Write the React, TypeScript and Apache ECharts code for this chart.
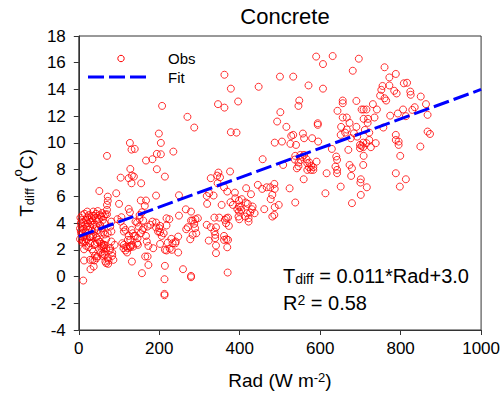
import React, { useEffect, useRef } from "react";
import * as echarts from "echarts";

const obsLowRad: [number, number][] = [
  [70, 9.03], [93, 6.23], [51, 6.4], [72, 5.98], [72, 5.66], [70, 5.36], [70, 4.99], [70, 4.66],
  [96, 4.29], [81, 4.11], [78, 3.74], [72, 3.24], [81, 3.37], [68, 2.79], [64, 2.37], [58, 2.29],
  [62, 2.19], [68, 2.12], [55, 1.8], [64, 1.87], [64, 1.62], [72, 1.37], [74, 1.2], [78, 2.12],
  [83, 1.8], [68, 1.0], [59, 1.55], [46, 1.5], [39, 1.2], [28, 1.25], [13, 1.2], [39, 2.37],
  [33, 2.04], [13, 2.62], [17, 2.62], [27, 2.99], [35, 2.99], [11, 2.94],
  [7, 4.24], [11, 4.04], [7, 3.79], [11, 3.54], [10, 3.24], [13, 2.99], [18, 4.24], [21, 4.44],
  [26, 4.24], [32, 4.36], [38, 4.54], [42, 4.36], [46, 4.11], [50, 4.29], [56, 4.49], [60, 4.24],
  [64, 3.99], [44, 3.74], [36, 3.87], [28, 3.74], [20, 3.74], [24, 3.49], [32, 3.44], [40, 3.54],
  [48, 3.49], [54, 3.29], [36, 3.12], [28, 2.94], [20, 2.79], [44, 2.94], [28, 2.49], [40, 2.44],
  [46, 2.54], [13, 2.04], [36, 1.87], [40, 1.55], [44, 1.37], [34, 1.25], [21, 4.86], [36, 4.86],
  [32, 4.54], [3, 3.6], [5, 4.0], [4, 4.4], [6, 3.2], [3, 2.8], [8, 2.7], [5, 3.4], [9, 4.6],
  [14, 4.7], [16, 3.9], [17, 3.3], [23, 4.0], [25, 4.6], [29, 4.1], [31, 3.0], [34, 4.2], [43, 4.7],
  [47, 4.9], [52, 4.6], [58, 4.75], [62, 4.5], [66, 4.65], [53, 3.85], [57, 3.6], [61, 3.3],
  [65, 3.15], [48, 2.75], [52, 2.6], [56, 2.45], [24, 2.2], [18, 2.3], [9, 2.55],
  [56, 2.12], [59, 1.7], [77, 1.95], [83, 1.55], [86, 1.25], [62, 2.37], [81, 2.62], [89, 2.37],
  [11, -0.3], [29, 0.55], [37, 0.75], [66, 1.12], [73, 0.95],
];

const obsMidRad: [number, number][] = [
  [127, 10.0], [131, 9.5], [139, 9.55], [204, 10.0], [194, 9.18], [204, 9.15], [235, 9.35],
  [104, 7.4], [128, 8.05], [124, 7.36], [132, 7.56], [137, 7.48], [131, 6.98], [155, 6.98],
  [167, 8.68], [183, 8.78], [194, 8.03], [214, 7.48], [192, 6.06], [100, 5.44], [106, 4.44],
  [124, 5.06], [127, 4.81], [154, 5.69], [167, 5.69], [164, 5.29], [157, 4.81], [151, 4.6],
  [151, 4.31], [249, 6.08], [225, 4.29], [249, 4.56],
  [218, 4.36], [218, 3.82], [221, 2.54], [230, 2.82], [202, 3.32], [192, 4.04], [192, 3.67],
  [200, 3.62], [202, 3.79], [206, 3.04], [218, 1.95], [226, 2.09], [247, 1.8], [214, 0.8],
  [173, 2.29], [185, 2.12], [202, 2.44], [169, 2.62], [167, 3.04], [161, 3.62], [171, 3.74],
  [178, 3.87], [149, 3.74], [145, 4.04], [141, 4.11], [160, 4.19], [131, 3.49], [137, 3.04],
  [141, 3.04], [124, 3.04], [122, 2.74], [128, 2.74], [132, 2.37], [127, 2.29], [118, 2.24],
  [122, 2.12], [128, 2.19], [135, 2.24], [112, 2.37], [108, 2.49], [111, 2.12], [116, 1.95],
  [120, 1.8], [132, 1.12], [147, 2.37], [145, 2.49], [165, 1.5], [171, 1.5], [173, 0.87],
  [112, 3.37], [116, 3.49], [111, 3.69], [104, 4.11], [247, 2.99], [241, 2.62], [233, 2.49],
  [134, 3.24], [146, 2.87], [158, 3.49], [183, 4.11], [197, 3.37], [211, 3.24], [240, 2.49],
  [231, 2.0], [214, 2.0], [154, 3.24], [157, 0.25], [213, -0.2], [213, -1.3], [213, -1.4],
  [199, 10.7], [207, 12.77],
];

const obsUpperMidRad: [number, number][] = [
  [328, 7.36], [347, 7.78], [351, 7.43], [345, 6.98], [376, 7.86], [361, 6.68], [324, 6.24],
  [335, 6.06], [369, 6.36], [388, 6.28], [319, 5.44], [355, 5.36], [377, 5.56], [383, 5.36],
  [398, 5.69], [416, 6.61], [428, 6.16], [445, 6.86], [456, 6.56], [467, 6.68], [486, 6.93],
  [487, 6.56], [481, 6.11], [477, 5.79], [457, 8.78], [266, 5.03], [279, 4.86], [267, 3.54],
  [271, 3.69], [279, 4.19], [283, 4.19], [290, 4.29], [296, 4.36], [287, 3.94], [289, 3.62],
  [292, 3.24], [283, 3.12], [277, 2.79], [318, 3.87], [328, 3.69], [337, 3.37], [341, 3.69],
  [339, 3.12], [339, 2.87], [323, 2.69], [341, 2.32], [341, 1.75], [361, 2.74], [367, 2.79],
  [371, 2.74], [369, 2.19], [373, 3.79], [363, 4.24], [367, 4.36], [371, 4.41], [349, 4.41],
  [337, 4.41], [394, 5.04], [398, 4.86], [404, 4.99], [402, 5.19], [398, 5.24], [414, 4.49],
  [422, 4.36], [422, 4.11], [418, 4.74], [426, 4.79], [430, 5.04], [432, 5.24], [437, 4.74],
  [461, 5.04], [487, 5.19], [486, 4.61], [481, 4.49], [497, 5.36], [415, 5.54], [420, 5.44],
  [389, 5.86], [405, 5.79], [344, 7.55], [318, 6.03], [361, 3.04], [366, 3.99], [397, 4.49],
  [399, 4.29], [476, 6.68], [259, 0.55], [279, 0.05], [279, -0.05], [370, 0.3],
  [362, 15.1], [447, 14.2], [378, 14.06], [346, 12.9], [362, 12.64], [396, 13.1], [270, 11.95],
  [287, 11.15], [493, 11.6], [378, 10.8], [392, 10.77], [487, 10.02],
];

const obsHighRad: [number, number][] = [
  [590, 16.46], [631, 16.5], [607, 15.9], [696, 16.3], [681, 15.4], [500, 14.96], [533, 14.96],
  [571, 14.3], [607, 14.06], [548, 13.17], [546, 12.77], [501, 12.3], [516, 11.2], [594, 11.47],
  [594, 11.35], [557, 10.7], [643, 12.4], [656, 13.17], [656, 12.97], [690, 13.14], [656, 11.9],
  [666, 11.9], [673, 11.5], [652, 11.2], [666, 11.0], [690, 11.2], [703, 12.5], [708, 12.5],
  [715, 12.5], [708, 11.8], [719, 11.8], [718, 11.5], [735, 11.9], [741, 12.5], [731, 12.9],
  [711, 10.97], [722, 10.77], [757, 11.15], [760, 15.66], [772, 14.9], [788, 15.16], [752, 13.97],
  [755, 14.26], [772, 14.3], [749, 13.54], [760, 13.34], [764, 13.17], [784, 13.9], [790, 13.7],
  [808, 14.46], [816, 14.5], [824, 13.84], [825, 13.6], [806, 12.5], [829, 12.47], [850, 13.47],
  [863, 12.9], [835, 12.67], [774, 12.04], [793, 12.2], [813, 12.0], [867, 12.1], [867, 10.85],
  [873, 10.67], [788, 10.6],
  [505, 10.1], [528, 10.52], [533, 10.6], [540, 9.85], [526, 9.93], [551, 9.1], [538, 5.54],
  [546, 8.53], [551, 8.73], [542, 8.1], [560, 9.1], [566, 8.78], [568, 8.48], [572, 8.18],
  [578, 8.28], [568, 7.98], [577, 7.98], [583, 7.98], [583, 8.18], [591, 8.6], [560, 10.35],
  [580, 10.35], [595, 10.1], [559, 7.28], [613, 6.23], [616, 7.73], [629, 9.55], [638, 8.23],
  [640, 8.98], [642, 8.73], [642, 7.98], [642, 7.73], [651, 6.73], [651, 10.6], [662, 10.77],
  [670, 9.48], [673, 8.35], [679, 8.1], [677, 7.53], [679, 5.49], [701, 6.11], [684, 10.72],
  [692, 10.47], [699, 9.85], [699, 9.6], [703, 9.78], [707, 9.68], [708, 9.03], [707, 8.35],
  [701, 7.28], [700, 7.03], [716, 6.68], [707, 10.02], [715, 9.98], [722, 10.22], [726, 9.68],
  [738, 9.98], [788, 10.22], [795, 10.1], [795, 9.85], [799, 9.03], [788, 7.73], [813, 7.28],
  [798, 6.73], [849, 9.73], [508, 8.35], [524, 6.6], [538, 9.03], [573, 8.53], [676, 10.35],
  [537, 8.75], [546, 8.25], [556, 8.95],
];

// Linear fit
const fitSlope = 0.011;
const fitIntercept = 3.0;

// Axes
const xTicks = [0, 200, 400, 600, 800, 1000];
const yTicks = [-4, -2, 0, 2, 4, 6, 8, 10, 12, 14, 16, 18];

const titleText = "Concrete";
const legendObs = "Obs";
const legendFit = "Fit";
const eqText = "{m|T}{sub|diff}{m| = 0.011*Rad+3.0}";
const r2Text = "{m|R}{sup|2}{m| = 0.58}";

const FONT = "'Liberation Sans', Arial, sans-serif";
const OBS_COLOR = "#ff0000";
const FIT_COLOR = "#0000ff";

export default function App() {
  const ref = useRef<HTMLDivElement>(null);
  useEffect(() => {
    document.body.style.margin = "0";
    const chart = echarts.init(ref.current!, null, { renderer: "svg" });
    const obs = [...obsLowRad, ...obsMidRad, ...obsUpperMidRad, ...obsHighRad];
    const xMin = xTicks[0];
    const xMax = xTicks[xTicks.length - 1];
    const yMin = yTicks[0];
    const yMax = yTicks[yTicks.length - 1];
    const fitData = [
      [xMin, fitIntercept + fitSlope * xMin],
      [xMax, fitIntercept + fitSlope * xMax],
    ];
    const richMain = { fontSize: 19, lineHeight: 24, verticalAlign: "top", fontFamily: FONT, color: "#000" };
    chart.setOption({
      animation: false,
      grid: {
        left: 74, right: 20, top: 36, bottom: 68,
        show: true, borderColor: "#333", borderWidth: 1, backgroundColor: "transparent",
      },
      xAxis: {
        type: "value", min: xMin, max: xMax, interval: xTicks[1] - xTicks[0],
        axisLine: { show: true, onZero: false, lineStyle: { color: "#333", width: 1 } },
        axisTick: { show: true, length: 5, lineStyle: { color: "#333" } },
        axisLabel: {
          color: "#000", fontSize: 17, fontFamily: FONT, margin: 10,
          formatter: (v: number) => String(v),
        },
        splitLine: { show: false },
        name: "{m|Rad (W m}{sup|-2}{m|)}",
        nameLocation: "middle",
        nameGap: 41,
        nameTextStyle: {
          fontFamily: FONT, fontSize: 19, color: "#000",
          rich: {
            m: richMain,
            sup: { fontSize: 13, lineHeight: 9, verticalAlign: "top", fontFamily: FONT, color: "#000" },
          },
        },
      },
      yAxis: {
        type: "value", min: yMin, max: yMax, interval: yTicks[1] - yTicks[0],
        axisLine: { show: true, onZero: false, lineStyle: { color: "#333", width: 1 } },
        axisTick: { show: true, length: 5, lineStyle: { color: "#333" } },
        axisLabel: {
          color: "#000", fontSize: 17, fontFamily: FONT, margin: 13,
          formatter: (v: number) => String(v),
        },
        splitLine: { show: false },
        name: "{m|T}{sub|diff}{m| (}{sup|o}{m|C)}",
        nameLocation: "middle",
        nameRotate: 90,
        nameGap: 41,
        nameTextStyle: {
          fontFamily: FONT, fontSize: 19, color: "#000",
          rich: {
            m: { fontSize: 19, lineHeight: 24, verticalAlign: "bottom", fontFamily: FONT, color: "#000" },
            sub: { fontSize: 13, lineHeight: 9, padding: [15, 0, 0, 0], verticalAlign: "bottom", fontFamily: FONT, color: "#000" },
            sup: { fontSize: 13, lineHeight: 9, padding: [0, 0, 12, 0], verticalAlign: "bottom", fontFamily: FONT, color: "#000" },
          },
        },
      },
      graphic: [
        {
          type: "text", x: 285, y: 16,
          style: {
            text: titleText, fontSize: 22, fontFamily: FONT, fill: "#000",
            align: "center", verticalAlign: "middle", textAlign: "center", textVerticalAlign: "middle",
          },
        },
        {
          type: "circle", shape: { cx: 121, cy: 58.5, r: 3.2 },
          style: { fill: "none", stroke: OBS_COLOR, lineWidth: 1 },
        },
        {
          type: "text", x: 168, y: 58.5,
          style: {
            text: legendObs, fontSize: 15, fontFamily: FONT, fill: "#000",
            align: "left", verticalAlign: "middle", textAlign: "left", textVerticalAlign: "middle",
          },
        },
        {
          type: "line", shape: { x1: 88, y1: 77, x2: 147, y2: 77 },
          style: { stroke: FIT_COLOR, lineWidth: 3, lineDash: [16, 5] },
        },
        {
          type: "text", x: 168, y: 77,
          style: {
            text: legendFit, fontSize: 15, fontFamily: FONT, fill: "#000",
            align: "left", verticalAlign: "middle", textAlign: "left", textVerticalAlign: "middle",
          },
        },
        {
          type: "text", x: 283, y: 262,
          style: {
            text: eqText, fontFamily: FONT, fontSize: 20, fill: "#000",
            align: "left", verticalAlign: "top", textAlign: "left", textVerticalAlign: "top",
            rich: {
              m: { fontSize: 20, lineHeight: 24, verticalAlign: "bottom", fontFamily: FONT, fill: "#000", color: "#000" },
              sub: { fontSize: 14, lineHeight: 10, padding: [14, 0, 0, 0], verticalAlign: "bottom", fontFamily: FONT, fill: "#000", color: "#000" },
            },
          },
        },
        {
          type: "text", x: 283, y: 293,
          style: {
            text: r2Text, fontFamily: FONT, fontSize: 20, fill: "#000",
            align: "left", verticalAlign: "top", textAlign: "left", textVerticalAlign: "top",
            rich: {
              m: { fontSize: 20, lineHeight: 24, verticalAlign: "top", fontFamily: FONT, fill: "#000", color: "#000" },
              sup: { fontSize: 14, lineHeight: 9, verticalAlign: "top", fontFamily: FONT, fill: "#000", color: "#000" },
            },
          },
        },
      ],
      series: [
        {
          type: "scatter",
          data: obs,
          symbol: "circle",
          symbolSize: 7,
          itemStyle: { color: "rgba(255,255,255,0)", borderColor: OBS_COLOR, borderWidth: 1 },
          z: 2,
        },
        {
          type: "line",
          data: fitData,
          symbol: "none",
          lineStyle: { color: FIT_COLOR, width: 3, type: [16, 5] },
          z: 3,
        },
      ],
    });
    return () => chart.dispose();
  }, []);
  return <div ref={ref} style={{ width: 503, height: 398 }} />;
}
